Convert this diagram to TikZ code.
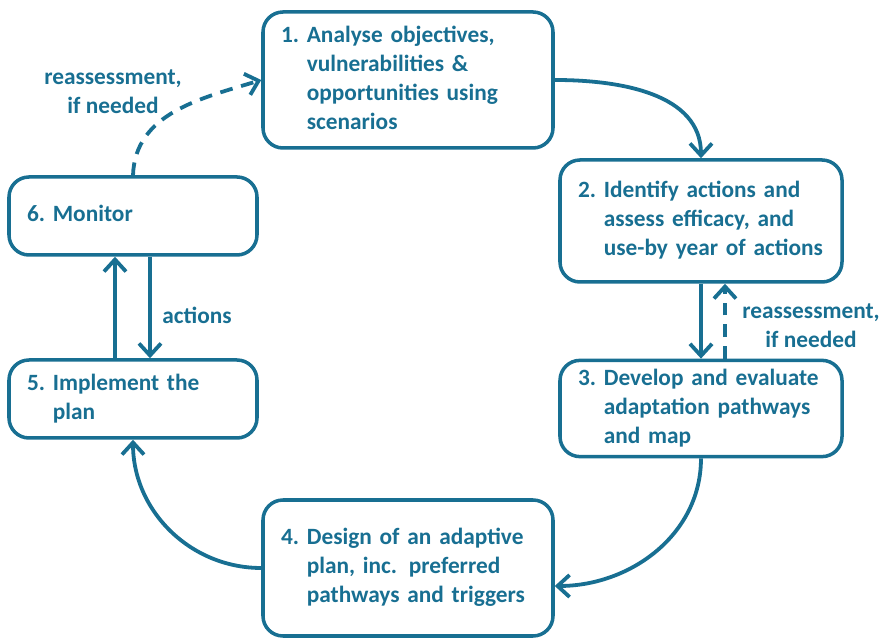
\documentclass[tikz,border=0pt]{standalone}
\usepackage{fontspec}
\setmainfont{Carlito}
\usetikzlibrary{arrows.meta}
\definecolor{cycleblue}{RGB}{24,111,146}
\newcommand{\stepfont}{\fontsize{16.6}{20.6}\selectfont\bfseries}
\tikzset{
  stepbox/.style={draw=cycleblue, line width=2.5pt, rounded corners=0.5cm,
    align=left, inner xsep=0.45cm, text=cycleblue, font=\stepfont},
  flow/.style={draw=cycleblue, line width=2.7pt,
    -{Straight Barb[length=0.3cm,width=0.55cm]}},
  reflow/.style={flow, dash pattern=on 0.32cm off 0.22cm},
  note/.style={text=cycleblue, font=\stepfont, align=center},
}
\begin{document}
\begin{tikzpicture}
  \useasboundingbox (0,0) rectangle (22.05,16);

  \node[stepbox, text width=6.35cm, minimum height=3.4cm] (analyse) at (10.2,14.0)
    {\begin{tabular}{@{}l@{\ }l@{}}1.& Analyse objectives,\\ & vulnerabilities \&\\ & opportunities using\\ & scenarios\end{tabular}};
  \node[stepbox, text width=6.15cm, minimum height=3.05cm] (identify) at (17.525,10.475)
    {\begin{tabular}{@{}l@{\ }l@{}}2.& Identify actions and\\ & assess efficacy, and\\ & use-by year of actions\end{tabular}};
  \node[stepbox, text width=6.15cm, minimum height=2.325cm] (develop) at (17.525,5.7875)
    {\begin{tabular}{@{}l@{\ }l@{}}3.& Develop and evaluate\\ & adaptation pathways\\ & and map\end{tabular}};
  \node[stepbox, text width=6.35cm, minimum height=3.4cm] (design) at (10.2,1.8)
    {\begin{tabular}{@{}l@{\ }l@{}}4.& Design of an adaptive\\ & plan, inc. preferred\\ & pathways and triggers\end{tabular}};
  \node[stepbox, text width=5.3cm, minimum height=1.95cm] (implement) at (3.325,6.025)
    {\begin{tabular}{@{}l@{\ }l@{}}5.& Implement the\\ & plan\end{tabular}};
  \node[stepbox, text width=5.3cm, minimum height=1.95cm] (monitor) at (3.325,10.6)
    {\begin{tabular}{@{}l@{\ }l@{}}6.& Monitor\end{tabular}};

  \node[note] (reassessA) at (2.825,13.7) {reassessment,\\if needed};
  \node[note] (reassessB) at (20.275,7.85) {reassessment,\\if needed};
  \node[note] (actions) at (4.925,8.125) {actions};

  \draw[flow] (analyse.east) to[out=0, in=90] (identify.north);
  \draw[flow] (identify.south) -- (develop.north);
  \draw[reflow] ([xshift=0.6cm]develop.north) -- ([xshift=0.6cm]identify.south);
  \draw[flow] (develop.south) to[out=-90, in=0] ([yshift=-0.45cm]design.east);
  \draw[flow] (design.west) to[out=180, in=-90] (implement.south);
  \draw[flow] ([xshift=-0.45cm]implement.north) -- ([xshift=-0.45cm]monitor.south);
  \draw[flow] ([xshift=0.425cm]monitor.south) -- ([xshift=0.425cm]implement.north);
  \draw[reflow] (monitor.north) to[out=88, in=197] (analyse.west);
\end{tikzpicture}
\end{document}
